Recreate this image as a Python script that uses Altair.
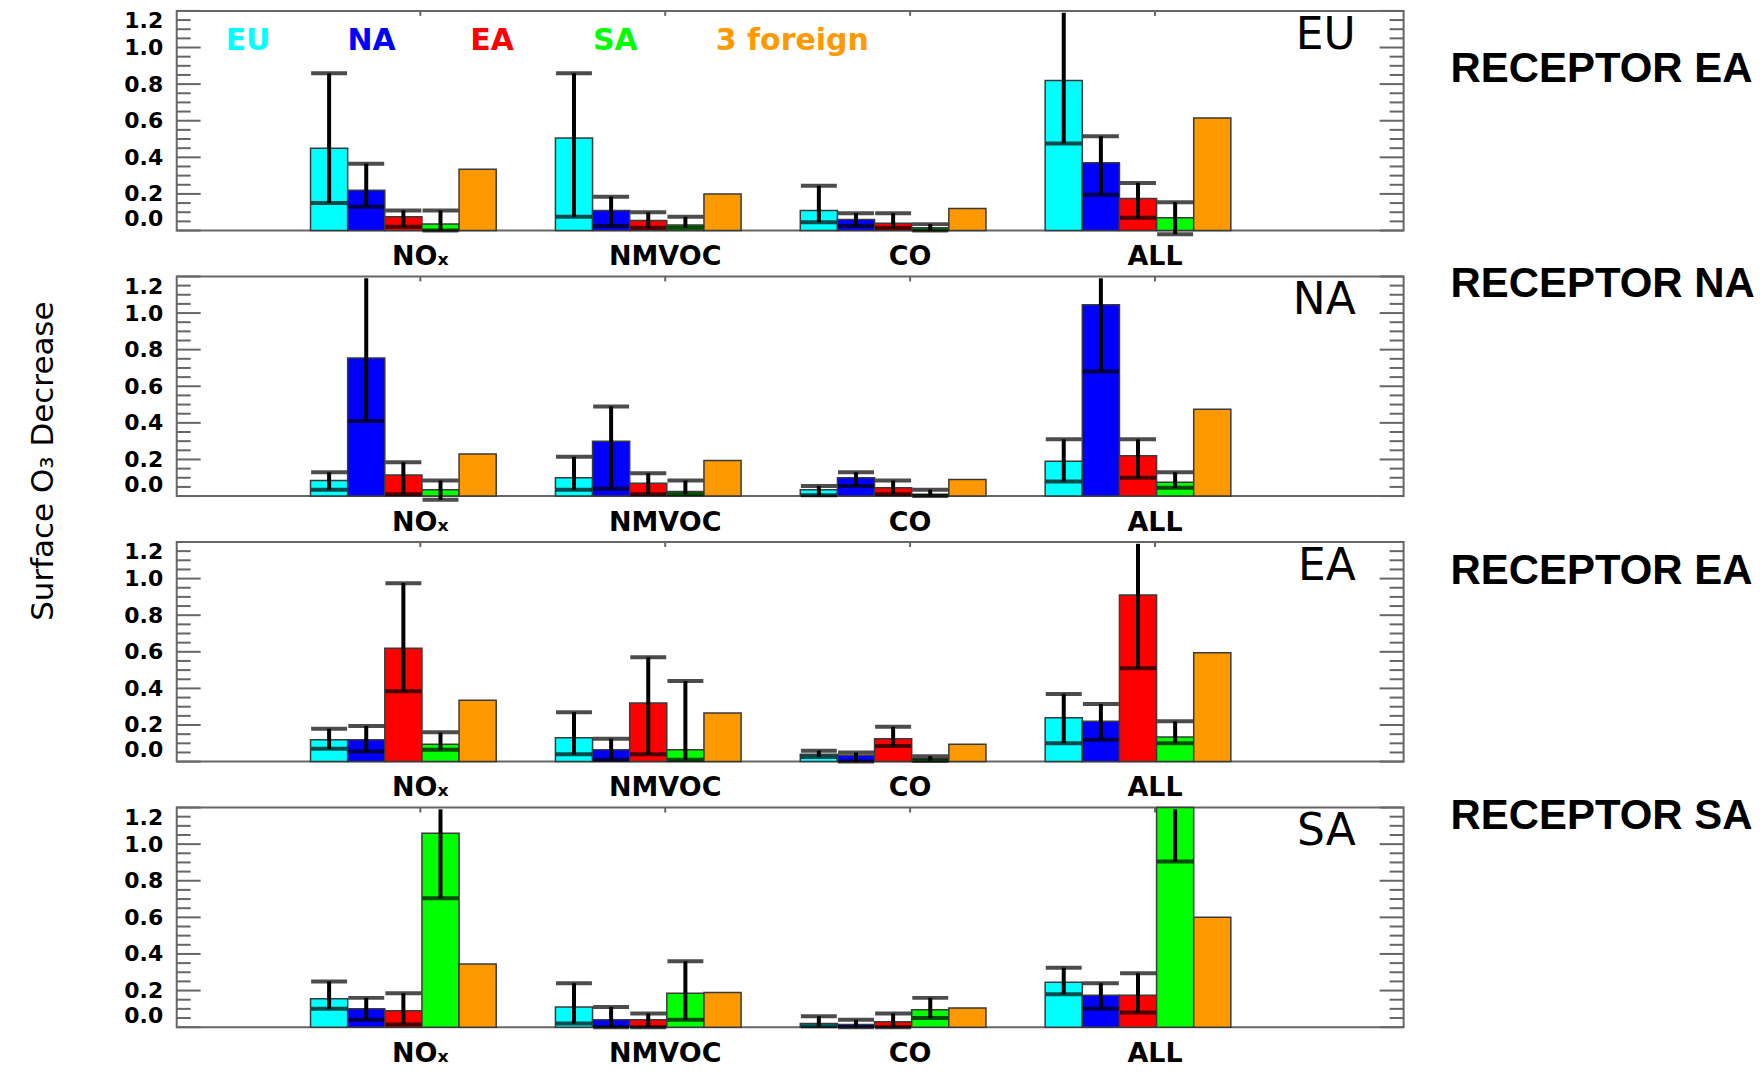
import altair as alt
import pandas as pd

groups = ["NOx", "NMVOC", "CO", "ALL"]
sources = ["EU", "NA", "EA", "SA", "3 foreign"]
colors = ["#00FFFF", "#0000FF", "#FF0000", "#00FF00", "#FF9900"]
receptors = ["EU", "NA", "EA", "SA"]
receptor_titles = ["RECEPTOR EA", "RECEPTOR NA", "RECEPTOR EA", "RECEPTOR SA"]

# mean decrease per group (rows: NOx, NMVOC, CO, ALL), sources EU, NA, EA, SA, 3 foreign
EU_mean = [[0.45, 0.22, 0.075, 0.035, 0.335],
           [0.505, 0.11, 0.055, 0.03, 0.20],
           [0.11, 0.06, 0.04, 0.015, 0.12],
           [0.82, 0.37, 0.175, 0.07, 0.615]]
EU_low = [[0.15, 0.13, 0.02, 0.0], [0.075, 0.025, 0.015, 0.015],
          [0.045, 0.025, 0.015, 0.0], [0.475, 0.195, 0.07, -0.02]]
EU_high = [[0.86, 0.365, 0.11, 0.11], [0.86, 0.185, 0.10, 0.075],
           [0.245, 0.095, 0.095, 0.035], [1.30, 0.515, 0.26, 0.155]]

NA_mean = [[0.085, 0.755, 0.115, 0.035, 0.23],
           [0.10, 0.30, 0.07, 0.025, 0.195],
           [0.035, 0.10, 0.045, 0.01, 0.09],
           [0.19, 1.045, 0.22, 0.075, 0.475]]
NA_low = [[0.035, 0.41, 0.01, -0.02], [0.035, 0.04, 0.01, 0.01],
          [0.005, 0.055, 0.01, 0.0], [0.08, 0.68, 0.10, 0.045]]
NA_high = [[0.13, 1.35, 0.185, 0.085], [0.215, 0.49, 0.125, 0.085],
           [0.055, 0.13, 0.085, 0.035], [0.31, 1.40, 0.31, 0.13]]

EA_mean = [[0.12, 0.12, 0.62, 0.095, 0.335],
           [0.13, 0.065, 0.32, 0.065, 0.265],
           [0.04, 0.035, 0.125, 0.015, 0.095],
           [0.24, 0.22, 0.91, 0.135, 0.595]]
EA_low = [[0.07, 0.055, 0.385, 0.065], [0.04, 0.01, 0.04, 0.01],
          [0.025, 0.0, 0.085, 0.005], [0.10, 0.12, 0.51, 0.10]]
EA_high = [[0.18, 0.195, 0.975, 0.16], [0.27, 0.125, 0.57, 0.44],
           [0.06, 0.05, 0.19, 0.03], [0.37, 0.315, 1.35, 0.22]]

SA_mean = [[0.155, 0.10, 0.09, 1.06, 0.345],
           [0.11, 0.04, 0.04, 0.185, 0.19],
           [0.02, 0.015, 0.03, 0.095, 0.105],
           [0.245, 0.175, 0.175, 1.36, 0.60]]
SA_low = [[0.10, 0.04, 0.015, 0.705], [0.02, 0.0, 0.0, 0.04],
          [0.005, 0.0, 0.0, 0.05], [0.18, 0.10, 0.08, 0.905]]
SA_high = [[0.25, 0.16, 0.185, 1.40], [0.24, 0.11, 0.075, 0.36],
           [0.06, 0.04, 0.075, 0.16], [0.325, 0.24, 0.295, 1.80]]

y_labels = [0.0, 0.2, 0.4, 0.6, 0.8, 1.0, 1.2]
minor_ticks = [0.05, 0.10, 0.15, 0.25, 0.30, 0.35, 0.45, 0.50, 0.55, 0.65, 0.70,
               0.75, 0.85, 0.90, 0.95, 1.05, 1.10, 1.15]

table = {"EU": (EU_mean, EU_low, EU_high), "NA": (NA_mean, NA_low, NA_high),
         "EA": (EA_mean, EA_low, EA_high), "SA": (SA_mean, SA_low, SA_high)}

rows = []
for rec in receptors:
    m, lo, hi = table[rec]
    for gi, g in enumerate(groups):
        for si, s in enumerate(sources):
            rows.append({"receptor": rec, "group": g, "source": s, "val": m[gi][si],
                         "lo": lo[gi][si] if si < 4 else None,
                         "hi": hi[gi][si] if si < 4 else None})
df = pd.DataFrame(rows)

W, H = 1229, 220
YMAX = 1.2
FRAME = "#666666"

yscale = alt.Scale(domain=[0, YMAX], nice=False, zero=False)
xscale = alt.Scale(domain=groups, paddingInner=0.2418, paddingOuter=0.626, align=0.4365)
xoscale = alt.Scale(domain=sources, paddingInner=0, paddingOuter=0)
cscale = alt.Scale(domain=sources, range=colors)

xaxis = alt.Axis(labelExpr="datum.label == 'NOx' ? 'NO\u2093' : datum.label",
                 ticks=False, domain=False, labelOffset=17, labelPadding=13,
                 labelFont="DejaVu Sans", labelFontWeight="bold", labelFontSize=27,
                 labelColor="black", labelAngle=0)
yaxis = alt.Axis(values=y_labels, format=".1f", labelFlush=True, labelOverlap=False,
                 ticks=False, domain=False, grid=False, labelFont="DejaVu Sans",
                 labelFontWeight="bold", labelFontSize=22, labelColor="black",
                 labelPadding=14)

legend_x = [49, 171, 294, 417, 540]
label_baselines = [71, 21, 42, 22]


def panel(i, rec):
    d = df[df.receptor == rec]
    derr = d.dropna(subset=["lo"])
    x = alt.X("group:N", scale=xscale, axis=xaxis, title=None)
    xo = alt.XOffset("source:N", scale=xoscale)
    bars = alt.Chart(d).transform_calculate(v=f"min(datum.val, {YMAX})").mark_bar(
        stroke="#3a3a3a", strokeWidth=1.5).encode(
        x=x, xOffset=xo,
        y=alt.Y("v:Q", scale=yscale, axis=yaxis, title=None),
        color=alt.Color("source:N", scale=cscale, legend=None))
    whisk = alt.Chart(derr).transform_calculate(h=f"min(datum.hi, {YMAX - 0.01})").mark_rule(
        color="black", strokeWidth=4).encode(
        x=x, xOffset=xo, y=alt.Y("lo:Q", scale=yscale, axis=yaxis, title=None), y2="h:Q")
    cap_lo = alt.Chart(derr).mark_tick(color="black", thickness=4, size=36,
                                        orient="horizontal").encode(
        x=x, xOffset=xo, y=alt.Y("lo:Q", scale=yscale, axis=yaxis, title=None))
    cap_hi = alt.Chart(derr).transform_filter(f"datum.hi <= {YMAX}").mark_tick(
        color="black", thickness=4, size=36, orient="horizontal").encode(
        x=x, xOffset=xo, y=alt.Y("hi:Q", scale=yscale, axis=yaxis, title=None))
    layers = [bars, whisk, cap_lo, cap_hi]
    tmaj = pd.DataFrame({"t": y_labels})
    tmin = pd.DataFrame({"t": minor_ticks})
    for data, ln in ((tmaj, 24), (tmin, 14)):
        for x0, x1 in ((0, ln), (W - ln, W)):
            layers.append(alt.Chart(data).mark_rule(color=FRAME, strokeWidth=2).encode(
                y=alt.Y("t:Q", scale=yscale, axis=yaxis, title=None),
                x=alt.value(x0), x2=alt.value(x1)))
    # small inward ticks on the top edge at the category label positions
    layers.append(alt.Chart(pd.DataFrame({"group": groups})).mark_rule(
        color=FRAME, strokeWidth=2, xOffset=17).encode(
        x=x, y=alt.value(0), y2=alt.value(5)))
    layers.append(alt.Chart(pd.DataFrame({"t": [rec]})).mark_text(
        font="DejaVu Sans", fontSize=44, align="right", baseline="alphabetic",
        color="black").encode(text="t:N", x=alt.value(1181), y=alt.value(38)))
    layers.append(alt.Chart(pd.DataFrame({"t": [receptor_titles[i]]})).mark_text(
        font="Liberation Sans", fontWeight="bold", fontSize=42, align="left",
        baseline="alphabetic", color="black").encode(
        text="t:N", x=alt.value(1276), y=alt.value(label_baselines[i])))
    if i == 0:
        for k, s in enumerate(sources):
            layers.append(alt.Chart(pd.DataFrame({"t": [s]})).mark_text(
                font="DejaVu Sans", fontWeight="bold", fontSize=30, align="left",
                baseline="alphabetic", color=colors[k]).encode(
                text="t:N", x=alt.value(legend_x[k]), y=alt.value(39)))
        layers.append(alt.Chart(pd.DataFrame({"t": [0]})).mark_rule(
            strokeOpacity=0, strokeWidth=1).encode(
            x=alt.value(-168), y=alt.value(2), y2=alt.value(10)))
    if i == 1:
        layers.append(alt.Chart(pd.DataFrame({"t": ["Surface O\u2083 Decrease"]})).mark_text(
            font="DejaVu Sans", fontSize=31, angle=270, align="center",
            baseline="alphabetic", color="black").encode(
            text="t:N", x=alt.value(-124), y=alt.value(185)))
    return alt.layer(*layers).properties(width=W, height=H)


chart = alt.vconcat(*[panel(i, r) for i, r in enumerate(receptors)],
                    spacing=46, bounds="flush").properties(
    padding={"left": 0, "top": 0, "right": 0, "bottom": 0},
    background="white").configure_view(stroke=FRAME, strokeWidth=2)

chart.save("out.html", embed_options={"renderer": "svg", "actions": False})
